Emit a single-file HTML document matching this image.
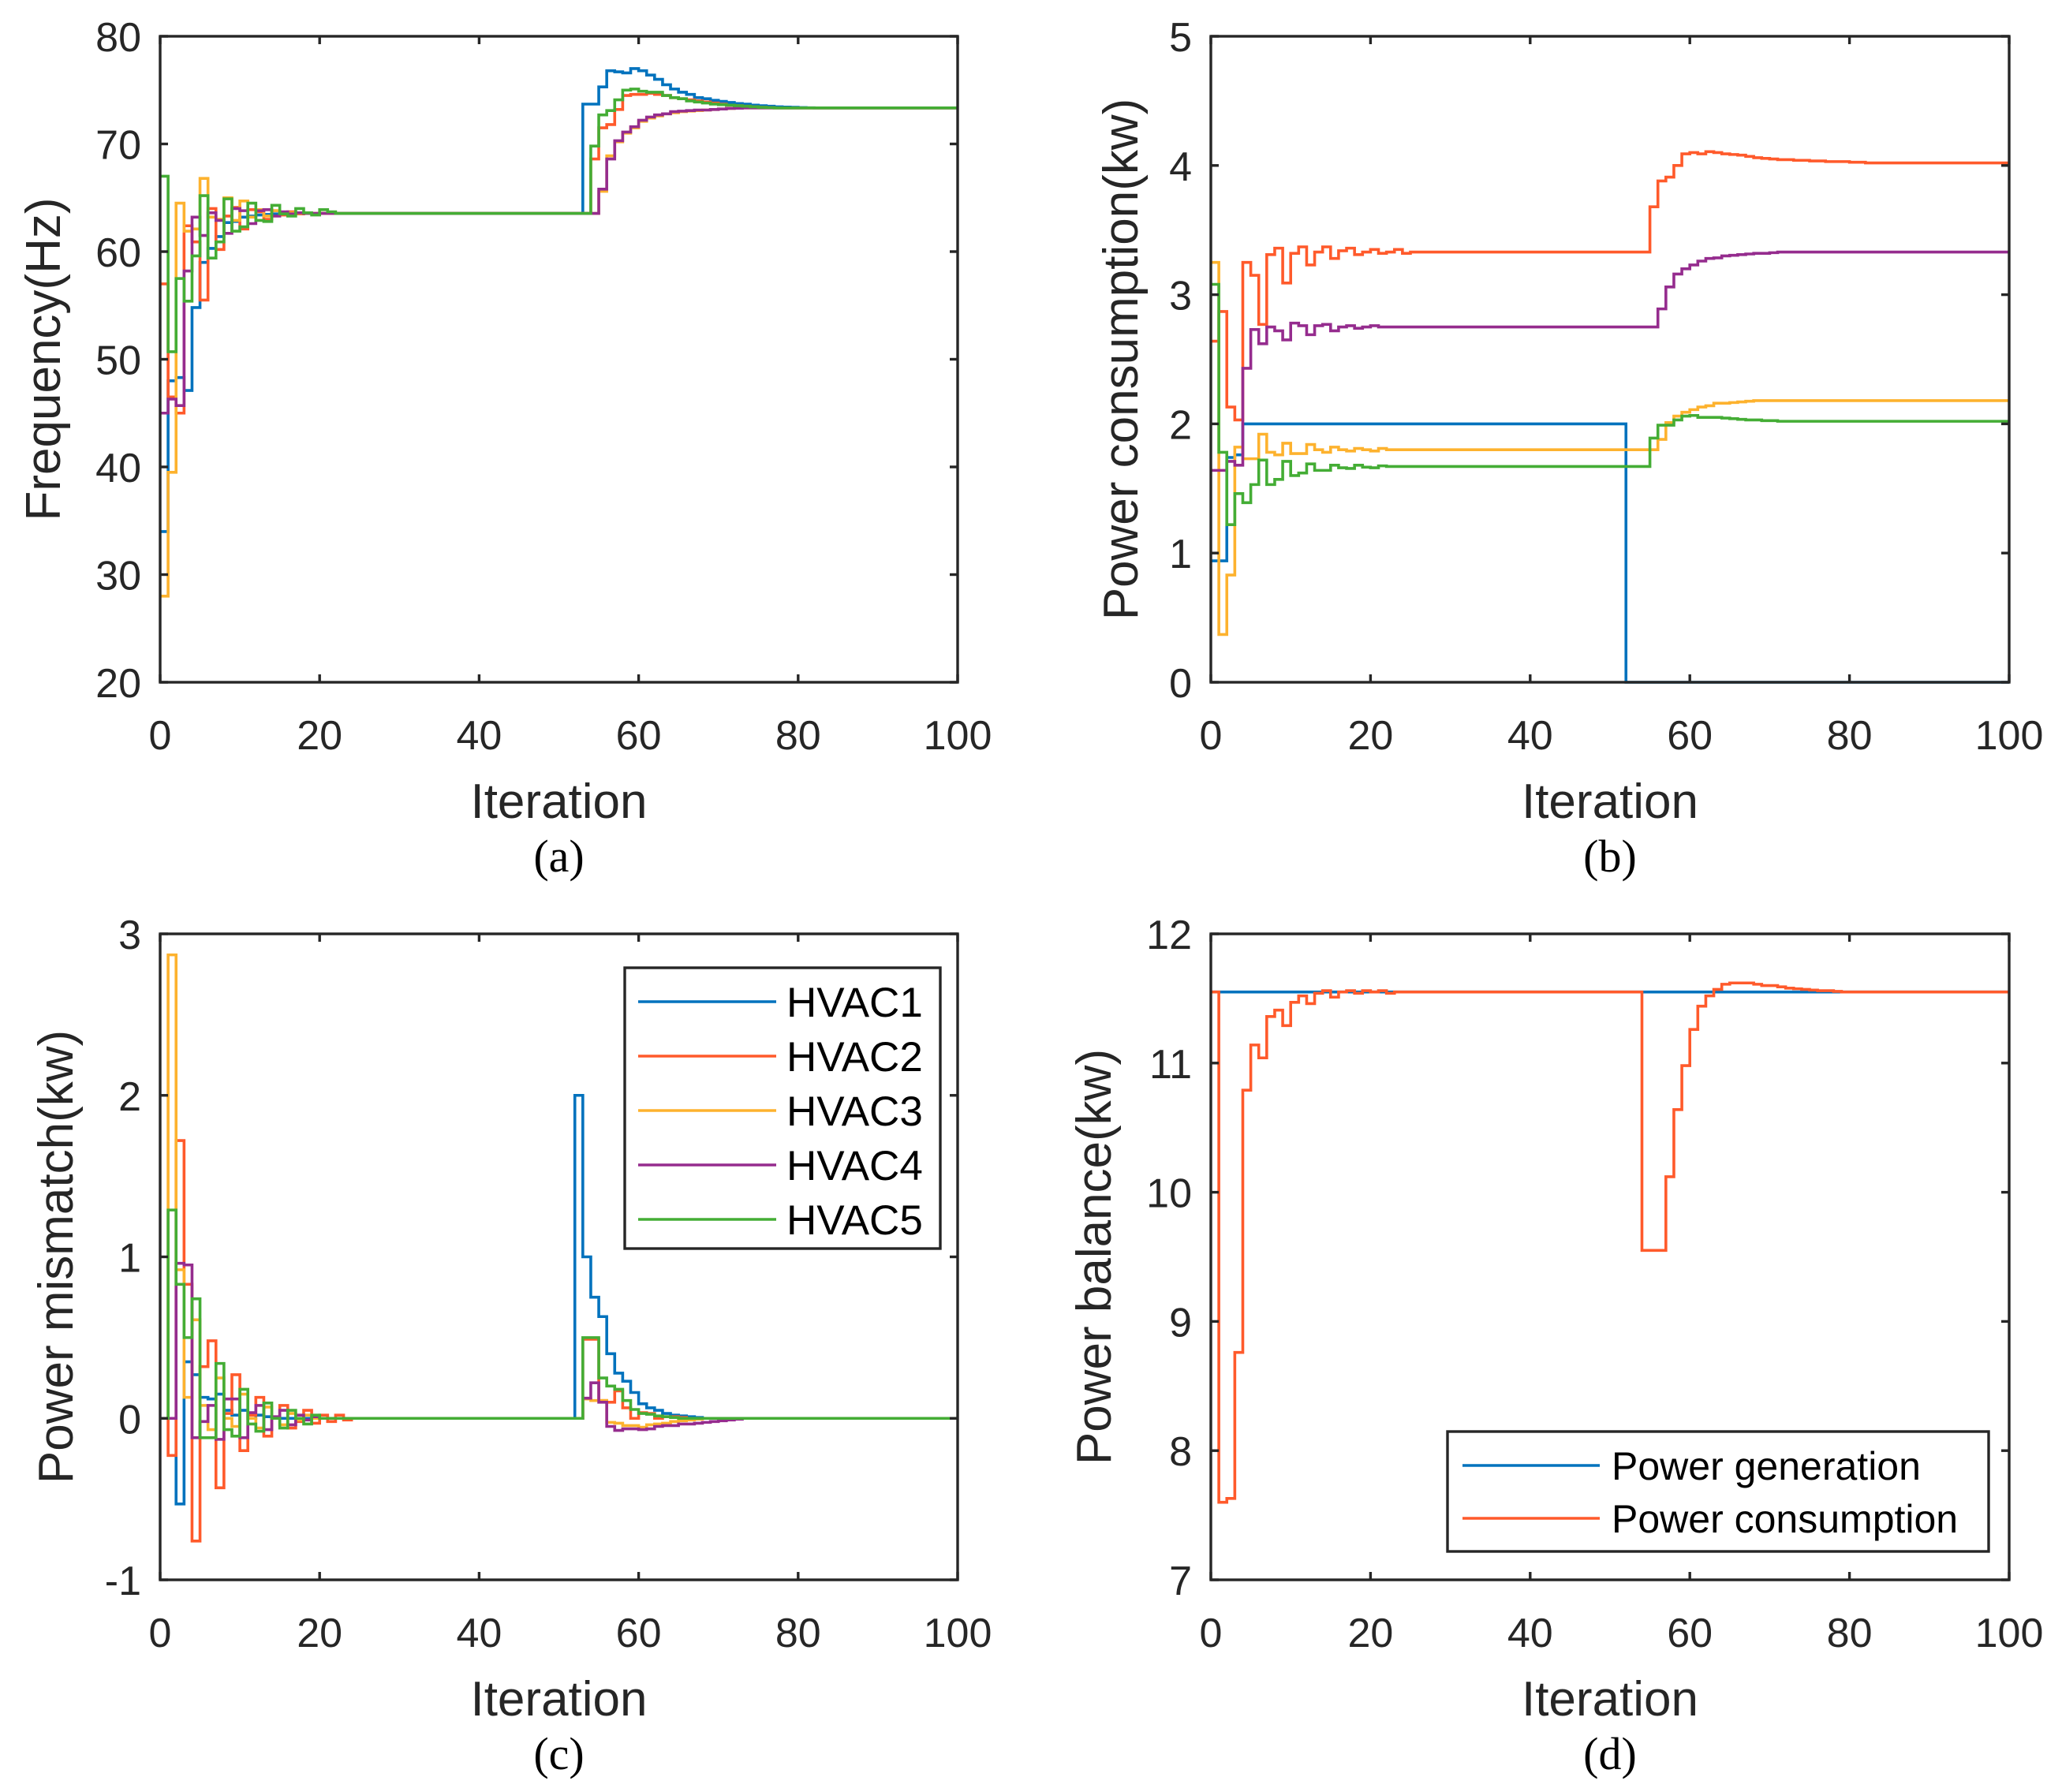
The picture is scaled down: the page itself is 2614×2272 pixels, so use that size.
<!DOCTYPE html>
<html>
<head>
<meta charset="utf-8">
<style>
html,body{margin:0;padding:0;background:#fff;}
svg{display:block;}
text{font-family:"Liberation Sans",Arial,sans-serif;fill:#262626;}
.sub{font-family:"Liberation Serif","Times New Roman",serif;fill:#000;}
</style>
</head>
<body>
<svg id="fig" width="2614" height="2272" viewBox="0 0 2614 2272" xmlns="http://www.w3.org/2000/svg"></svg>
<script>
// ---------- data ----------
const xTicks = [0,20,40,60,80,100];
const yTicksA = [20,30,40,50,60,70,80];
const yTicksB = [0,1,2,3,4,5];
const yTicksC = [-1,0,1,2,3];
const yTicksD = [7,8,9,10,11,12];
const seriesNames = ["HVAC1","HVAC2","HVAC3","HVAC4","HVAC5"];
const legendD = ["Power generation","Power consumption"];

// (a) Frequency
const blueA = [34,48,48.3,47.1,54.8,59,60.3,61.4,62.7,62.8,63.2,63.3,63.4,63.45,63.5,63.5,
63.55,63.55,63.55,63.55,63.55,63.55,63.55,63.55,63.55,63.55,63.55,63.55,63.55,63.55,63.55,63.55,63.55,63.55,63.55,63.55,63.55,63.55,63.55,63.55,63.55,63.55,63.55,63.55,63.55,63.55,63.55,63.55,63.55,63.55,63.55,63.55,63.55,
73.7,73.7,75.3,76.8,76.7,76.6,77,76.8,76.4,76,75.5,75.1,74.8,74.6,74.3,74.2,74.05,73.95,73.85,73.75,73.7,73.6,73.55,73.5,73.45,73.42,73.4,73.38,73.36,73.35];
const redA = [57,46.5,45,62.4,60.9,55.5,64,60.2,63.3,64.1,62.1,63.9,63.7,63,63.8,63.4,63.7,63.5,63.6,
63.55,63.55,63.55,63.55,63.55,63.55,63.55,63.55,63.55,63.55,63.55,63.55,63.55,63.55,63.55,63.55,63.55,63.55,63.55,63.55,63.55,63.55,63.55,63.55,63.55,63.55,63.55,63.55,63.55,63.55,63.55,63.55,63.55,63.55,63.55,
68.6,71.5,71.8,73.2,74.5,74.6,74.6,74.7,74.6,74.5,74.3,74.2,74.1,74,73.9,73.8,73.7,73.6,73.55,73.5,73.45,73.4,73.38,73.35];
const yellowA = [28,39.5,64.5,61.9,62.1,66.8,63.2,63,65,62.9,64.7,63.2,63.9,63.3,63.8,63.5,63.6,
63.55,63.55,63.55,63.55,63.55,63.55,63.55,63.55,63.55,63.55,63.55,63.55,63.55,63.55,63.55,63.55,63.55,63.55,63.55,63.55,63.55,63.55,63.55,63.55,63.55,63.55,63.55,63.55,63.55,63.55,63.55,63.55,63.55,63.55,63.55,63.55,63.55,63.55,
65.6,68.9,70.2,71,71.5,72.1,72.4,72.6,72.8,72.9,73,73.05,73.1,73.15,73.2,73.25,73.3,73.32,73.35];
const purpleA = [45,46.3,45.7,58.2,63.2,61.5,63.6,62.9,61.7,64,63.8,62.6,63.8,63.9,63.3,63.7,63.5,63.6,
63.55,63.55,63.55,63.55,63.55,63.55,63.55,63.55,63.55,63.55,63.55,63.55,63.55,63.55,63.55,63.55,63.55,63.55,63.55,63.55,63.55,63.55,63.55,63.55,63.55,63.55,63.55,63.55,63.55,63.55,63.55,63.55,63.55,63.55,63.55,63.55,63.55,
65.8,68.6,70.3,71.1,71.6,72.2,72.5,72.7,72.8,73,73.05,73.1,73.15,73.15,73.2,73.25,73.3,73.32,73.35];
const greenA = [67,50.7,57.5,55.4,59.6,65.2,59.4,60.9,64.9,61.9,62.3,64.5,62.9,62.8,64.3,63.5,63.3,64,63.6,63.4,63.9,63.7,
63.55,63.55,63.55,63.55,63.55,63.55,63.55,63.55,63.55,63.55,63.55,63.55,63.55,63.55,63.55,63.55,63.55,63.55,63.55,63.55,63.55,63.55,63.55,63.55,63.55,63.55,63.55,63.55,63.55,63.55,63.55,63.55,
69.8,72.7,73.1,74.1,75,75.1,74.9,74.8,74.8,74.5,74.3,74.2,74,73.9,73.8,73.7,73.65,73.6,73.55,73.5,73.45,73.4,73.38,73.35];

// (b) Power consumption
const blueB = [0.94,0.94,1.74,1.76,
2,2,2,2,2,2,2,2,2,2,2,2,2,2,2,2,2,2,2,2,2,2,2,2,2,2,2,2,2,2,2,2,2,2,2,2,2,2,2,2,2,2,2,2,2,2,2,2,
0];
const redB = [2.64,2.87,2.13,2.03,3.25,3.15,2.77,3.31,3.36,3.09,3.32,3.37,3.23,3.33,3.37,3.28,3.34,3.36,3.31,3.33,3.35,3.32,3.33,3.35,3.32,
3.33,3.33,3.33,3.33,3.33,3.33,3.33,3.33,3.33,3.33,3.33,3.33,3.33,3.33,3.33,3.33,3.33,3.33,3.33,3.33,3.33,3.33,3.33,3.33,3.33,3.33,3.33,3.33,3.33,3.33,
3.68,3.88,3.91,4,4.09,4.1,4.09,4.107,4.1,4.09,4.085,4.08,4.07,4.06,4.055,4.05,4.045,4.045,4.04,4.04,4.035,4.035,4.03,4.03,4.03,4.025,4.025,4.02];
const yellowB = [3.25,0.37,0.83,1.82,1.73,1.73,1.92,1.78,1.76,1.85,1.77,1.77,1.84,1.8,1.78,1.82,1.8,1.79,1.81,1.8,1.79,1.81,
1.8,1.8,1.8,1.8,1.8,1.8,1.8,1.8,1.8,1.8,1.8,1.8,1.8,1.8,1.8,1.8,1.8,1.8,1.8,1.8,1.8,1.8,1.8,1.8,1.8,1.8,1.8,1.8,1.8,1.8,1.8,1.8,1.8,1.8,
1.88,2.01,2.06,2.09,2.11,2.13,2.14,2.16,2.16,2.165,2.17,2.175,2.18];
const purpleB = [1.64,1.64,1.71,1.68,2.43,2.73,2.62,2.75,2.72,2.65,2.78,2.76,2.69,2.76,2.77,2.72,2.75,2.76,2.74,2.75,2.76,
2.75,2.75,2.75,2.75,2.75,2.75,2.75,2.75,2.75,2.75,2.75,2.75,2.75,2.75,2.75,2.75,2.75,2.75,2.75,2.75,2.75,2.75,2.75,2.75,2.75,2.75,2.75,2.75,2.75,2.75,2.75,2.75,2.75,2.75,2.75,
2.89,3.06,3.16,3.2,3.23,3.26,3.28,3.285,3.3,3.305,3.31,3.315,3.32,3.32,3.325,3.33];
const greenB = [3.08,1.78,1.22,1.46,1.39,1.53,1.72,1.53,1.57,1.71,1.6,1.62,1.69,1.64,1.64,1.68,1.66,1.655,1.68,1.665,1.66,1.675,1.67,
1.67,1.67,1.67,1.67,1.67,1.67,1.67,1.67,1.67,1.67,1.67,1.67,1.67,1.67,1.67,1.67,1.67,1.67,1.67,1.67,1.67,1.67,1.67,1.67,1.67,1.67,1.67,1.67,1.67,1.67,1.67,1.67,
1.89,1.99,1.99,2.03,2.06,2.065,2.05,2.05,2.05,2.045,2.04,2.035,2.03,2.03,2.025,2.025,2.02];

// (c) Power mismatch
const blueC = [0,0,-0.53,0.35,0.27,0.13,0.12,0.15,0.05,0.02,0.05,0,0.02,0.01,
0,0,0,0,0,0,0,0,0,0,0,0,0,0,0,0,0,0,0,0,0,0,0,0,0,0,0,0,0,0,0,0,0,0,0,0,0,0,
2,1,0.75,0.63,0.4,0.28,0.23,0.16,0.09,0.065,0.05,0.03,0.02,0.015,0.01,0.005,0];
const redC = [0,-0.23,1.72,0.83,-0.76,0.32,0.48,-0.43,0.03,0.27,-0.2,0.02,0.13,-0.11,0,0.08,-0.06,-0.02,0.05,-0.03,0.02,-0.02,0.02,-0.01,
0,0,0,0,0,0,0,0,0,0,0,0,0,0,0,0,0,0,0,0,0,0,0,0,0,0,0,0,0,
0.49,0.49,0.11,0.1,0.17,0.065,0,0.035,0.03,0,0.01,0.01,0.005,0];
const yellowC = [0,2.87,0.92,0.13,0.61,0.08,-0.07,0.25,0,-0.05,0.15,0,-0.06,0.07,0,-0.04,0.03,-0.01,0.02,
0,0,0,0,0,0,0,0,0,0,0,0,0,0,0,0,0,0,0,0,0,0,0,0,0,0,0,0,0,0,0,0,0,0,
0.12,0.11,0.11,-0.025,-0.03,-0.045,-0.045,-0.055,-0.04,-0.035,-0.03,-0.02,-0.015,-0.01,-0.005,0];
const purpleC = [0,0,0.96,0.95,-0.12,-0.02,0.08,-0.13,0.12,0.12,-0.12,0.035,0.08,-0.07,0.01,0.05,-0.04,0.02,-0.01,0.01,
0,0,0,0,0,0,0,0,0,0,0,0,0,0,0,0,0,0,0,0,0,0,0,0,0,0,0,0,0,0,0,0,0,
0.125,0.22,0.1,-0.05,-0.075,-0.065,-0.065,-0.07,-0.065,-0.05,-0.045,-0.045,-0.035,-0.035,-0.03,-0.025,-0.02,-0.015,-0.01,-0.005,0];
const greenC = [0,1.29,0.83,0.5,0.74,-0.12,-0.12,0.34,-0.07,-0.11,0.18,-0.035,-0.08,0.095,0,-0.06,0.05,0,-0.035,0.02,0,
0,0,0,0,0,0,0,0,0,0,0,0,0,0,0,0,0,0,0,0,0,0,0,0,0,0,0,0,0,0,0,0,
0.5,0.5,0.25,0.2,0.18,0.11,0.055,0.03,0.025,0.015,0.01,0.005,0];

// (d) Power balance
const genD = [11.55];
const consD = [11.55,7.6,7.63,8.76,10.79,11.14,11.04,11.36,11.41,11.29,11.47,11.52,11.46,11.54,11.56,11.51,11.55,11.56,11.54,11.56,11.55,11.56,11.54,11.55,
11.55,11.55,11.55,11.55,11.55,11.55,11.55,11.55,11.55,11.55,11.55,11.55,11.55,11.55,11.55,11.55,11.55,11.55,11.55,11.55,11.55,11.55,11.55,11.55,11.55,11.55,11.55,11.55,11.55,11.55,
9.55,9.55,9.55,10.12,10.64,10.98,11.26,11.44,11.52,11.57,11.61,11.62,11.62,11.62,11.61,11.6,11.6,11.59,11.58,11.575,11.57,11.565,11.56,11.56,11.555,11.55];

// ---------- drawing ----------
const NS = "http://www.w3.org/2000/svg";
const svg = document.getElementById("fig");
const COLORS = ["#0072BD","#FF5A2B","#FDB22E","#952C8E","#44AD35"];
const AX = "#262626";

function mk(tag, attrs, parent){
  const e = document.createElementNS(NS, tag);
  for (const k in attrs) e.setAttribute(k, attrs[k]);
  (parent||svg).appendChild(e);
  return e;
}

function makeScale(d0,d1,r0,r1){ return v => r0 + (v-d0)/(d1-d0)*(r1-r0); }

function drawPanel(p){
  const g = mk("g", {});
  
  
  const sx = makeScale(0,100,p.l,p.r);
  const sy = makeScale(p.ymin,p.ymax,p.b,p.t);
  const bg = mk("rect",{x:p.l,y:p.t,width:p.r-p.l,height:p.b-p.t,fill:"#fff"},g);
  
  

  p.series.forEach((vals, si) => {
    let d = "M" + sx(0) + " " + sy(vals[0]);
    for (let i = 1; i < vals.length && i <= 100; i++){
      d += " H" + sx(i) + " V" + sy(vals[i]);
    }
    d += " H" + sx(100);
    const path = mk("path",{d:d,fill:"none",stroke:p.colors[si],"stroke-width":3.6,"stroke-linejoin":"miter"},g);
    
    
  });

  const box = mk("rect",{x:p.l,y:p.t,width:p.r-p.l,height:p.b-p.t,fill:"none",stroke:AX,"stroke-width":3.4},g);
  
  

  xTicks.forEach(v => {
    const x = sx(v);
    const t1 = mk("line",{x1:x,x2:x,y1:p.b,y2:p.b-10,stroke:AX,"stroke-width":3.4},g);
    
    
    const t2 = mk("line",{x1:x,x2:x,y1:p.t,y2:p.t+10,stroke:AX,"stroke-width":3.4},g);
    
    
    const lb = mk("text",{x:x,y:p.b+85,"font-size":52,"text-anchor":"middle"},g);
    lb.textContent = v;
    
    
  });
  p.yTicks.forEach(v => {
    const y = sy(v);
    const t1 = mk("line",{x1:p.l,x2:p.l+10,y1:y,y2:y,stroke:AX,"stroke-width":3.4},g);
    
    
    const t2 = mk("line",{x1:p.r,x2:p.r-10,y1:y,y2:y,stroke:AX,"stroke-width":3.4},g);
    
    
    const lb = mk("text",{x:p.l-24,y:y+19,"font-size":52,"text-anchor":"end"},g);
    lb.textContent = v;
    
    
  });
  const xl = mk("text",{x:(p.l+p.r)/2,y:p.b+172,"font-size":62,"text-anchor":"middle"},g);
  xl.textContent = "Iteration";
  
  
  const cy = (p.t+p.b)/2;
  const yl = mk("text",{x:p.ylx,y:cy,"font-size":62,"text-anchor":"middle",transform:"rotate(-90 "+p.ylx+" "+cy+")"},g);
  yl.textContent = p.ylabel;
  
  
  const sl = mk("text",{x:(p.l+p.r)/2,y:p.b+240,"font-size":58,"text-anchor":"middle","class":"sub"},g);
  sl.textContent = p.sub;
  
  

  if (p.legend){
    const L = p.legend;
    const lg = mk("g",{},g);
    
    
    const lr = mk("rect",{x:L.x,y:L.y,width:L.w,height:L.h,fill:"#fff",stroke:AX,"stroke-width":3.4},lg);
    
    
    L.labels.forEach((name,i) => {
      const y = L.y0 + i*L.dy;
      const ln = mk("line",{x1:L.lx1,x2:L.lx2,y1:y,y2:y,stroke:p.colors[i],"stroke-width":3.6},lg);
      
      
      const tx = mk("text",{x:L.tx,y:y+L.fs*0.36,"font-size":L.fs,style:"fill:#000"},lg);
      tx.textContent = name;
      
      
    });
  }
}

drawPanel({name:"panel-a-frequency",l:203,r:1214,t:46,b:865,ymin:20,ymax:80,yTicks:yTicksA,
  series:[blueA,redA,yellowA,purpleA,greenA],colors:COLORS,seriesNames:seriesNames,
  ylabel:"Frequency(Hz)",ylx:76,sub:"(a)"});
drawPanel({name:"panel-b-power-consumption",l:1535,r:2547,t:46,b:865,ymin:0,ymax:5,yTicks:yTicksB,
  series:[blueB,redB,yellowB,purpleB,greenB],colors:COLORS,seriesNames:seriesNames,
  ylabel:"Power consumption(kw)",ylx:1442,sub:"(b)"});
drawPanel({name:"panel-c-power-mismatch",l:203,r:1214,t:1184,b:2003,ymin:-1,ymax:3,yTicks:yTicksC,
  series:[blueC,redC,yellowC,purpleC,greenC],colors:COLORS,seriesNames:seriesNames,
  ylabel:"Power mismatch(kw)",ylx:92,sub:"(c)",
  legend:{x:792,y:1227,w:400,h:356,labels:seriesNames,y0:1270,dy:69,lx1:809,lx2:984,tx:997,fs:53}});
drawPanel({name:"panel-d-power-balance",l:1535,r:2547,t:1184,b:2003,ymin:7,ymax:12,yTicks:yTicksD,
  series:[genD,consD],colors:[COLORS[0],COLORS[1]],seriesNames:legendD,
  ylabel:"Power balance(kw)",ylx:1408,sub:"(d)",
  legend:{x:1835,y:1815,w:686,h:152,labels:legendD,y0:1858,dy:67,lx1:1854,lx2:2028,tx:2043,fs:50}});
</script>
</body>
</html>
